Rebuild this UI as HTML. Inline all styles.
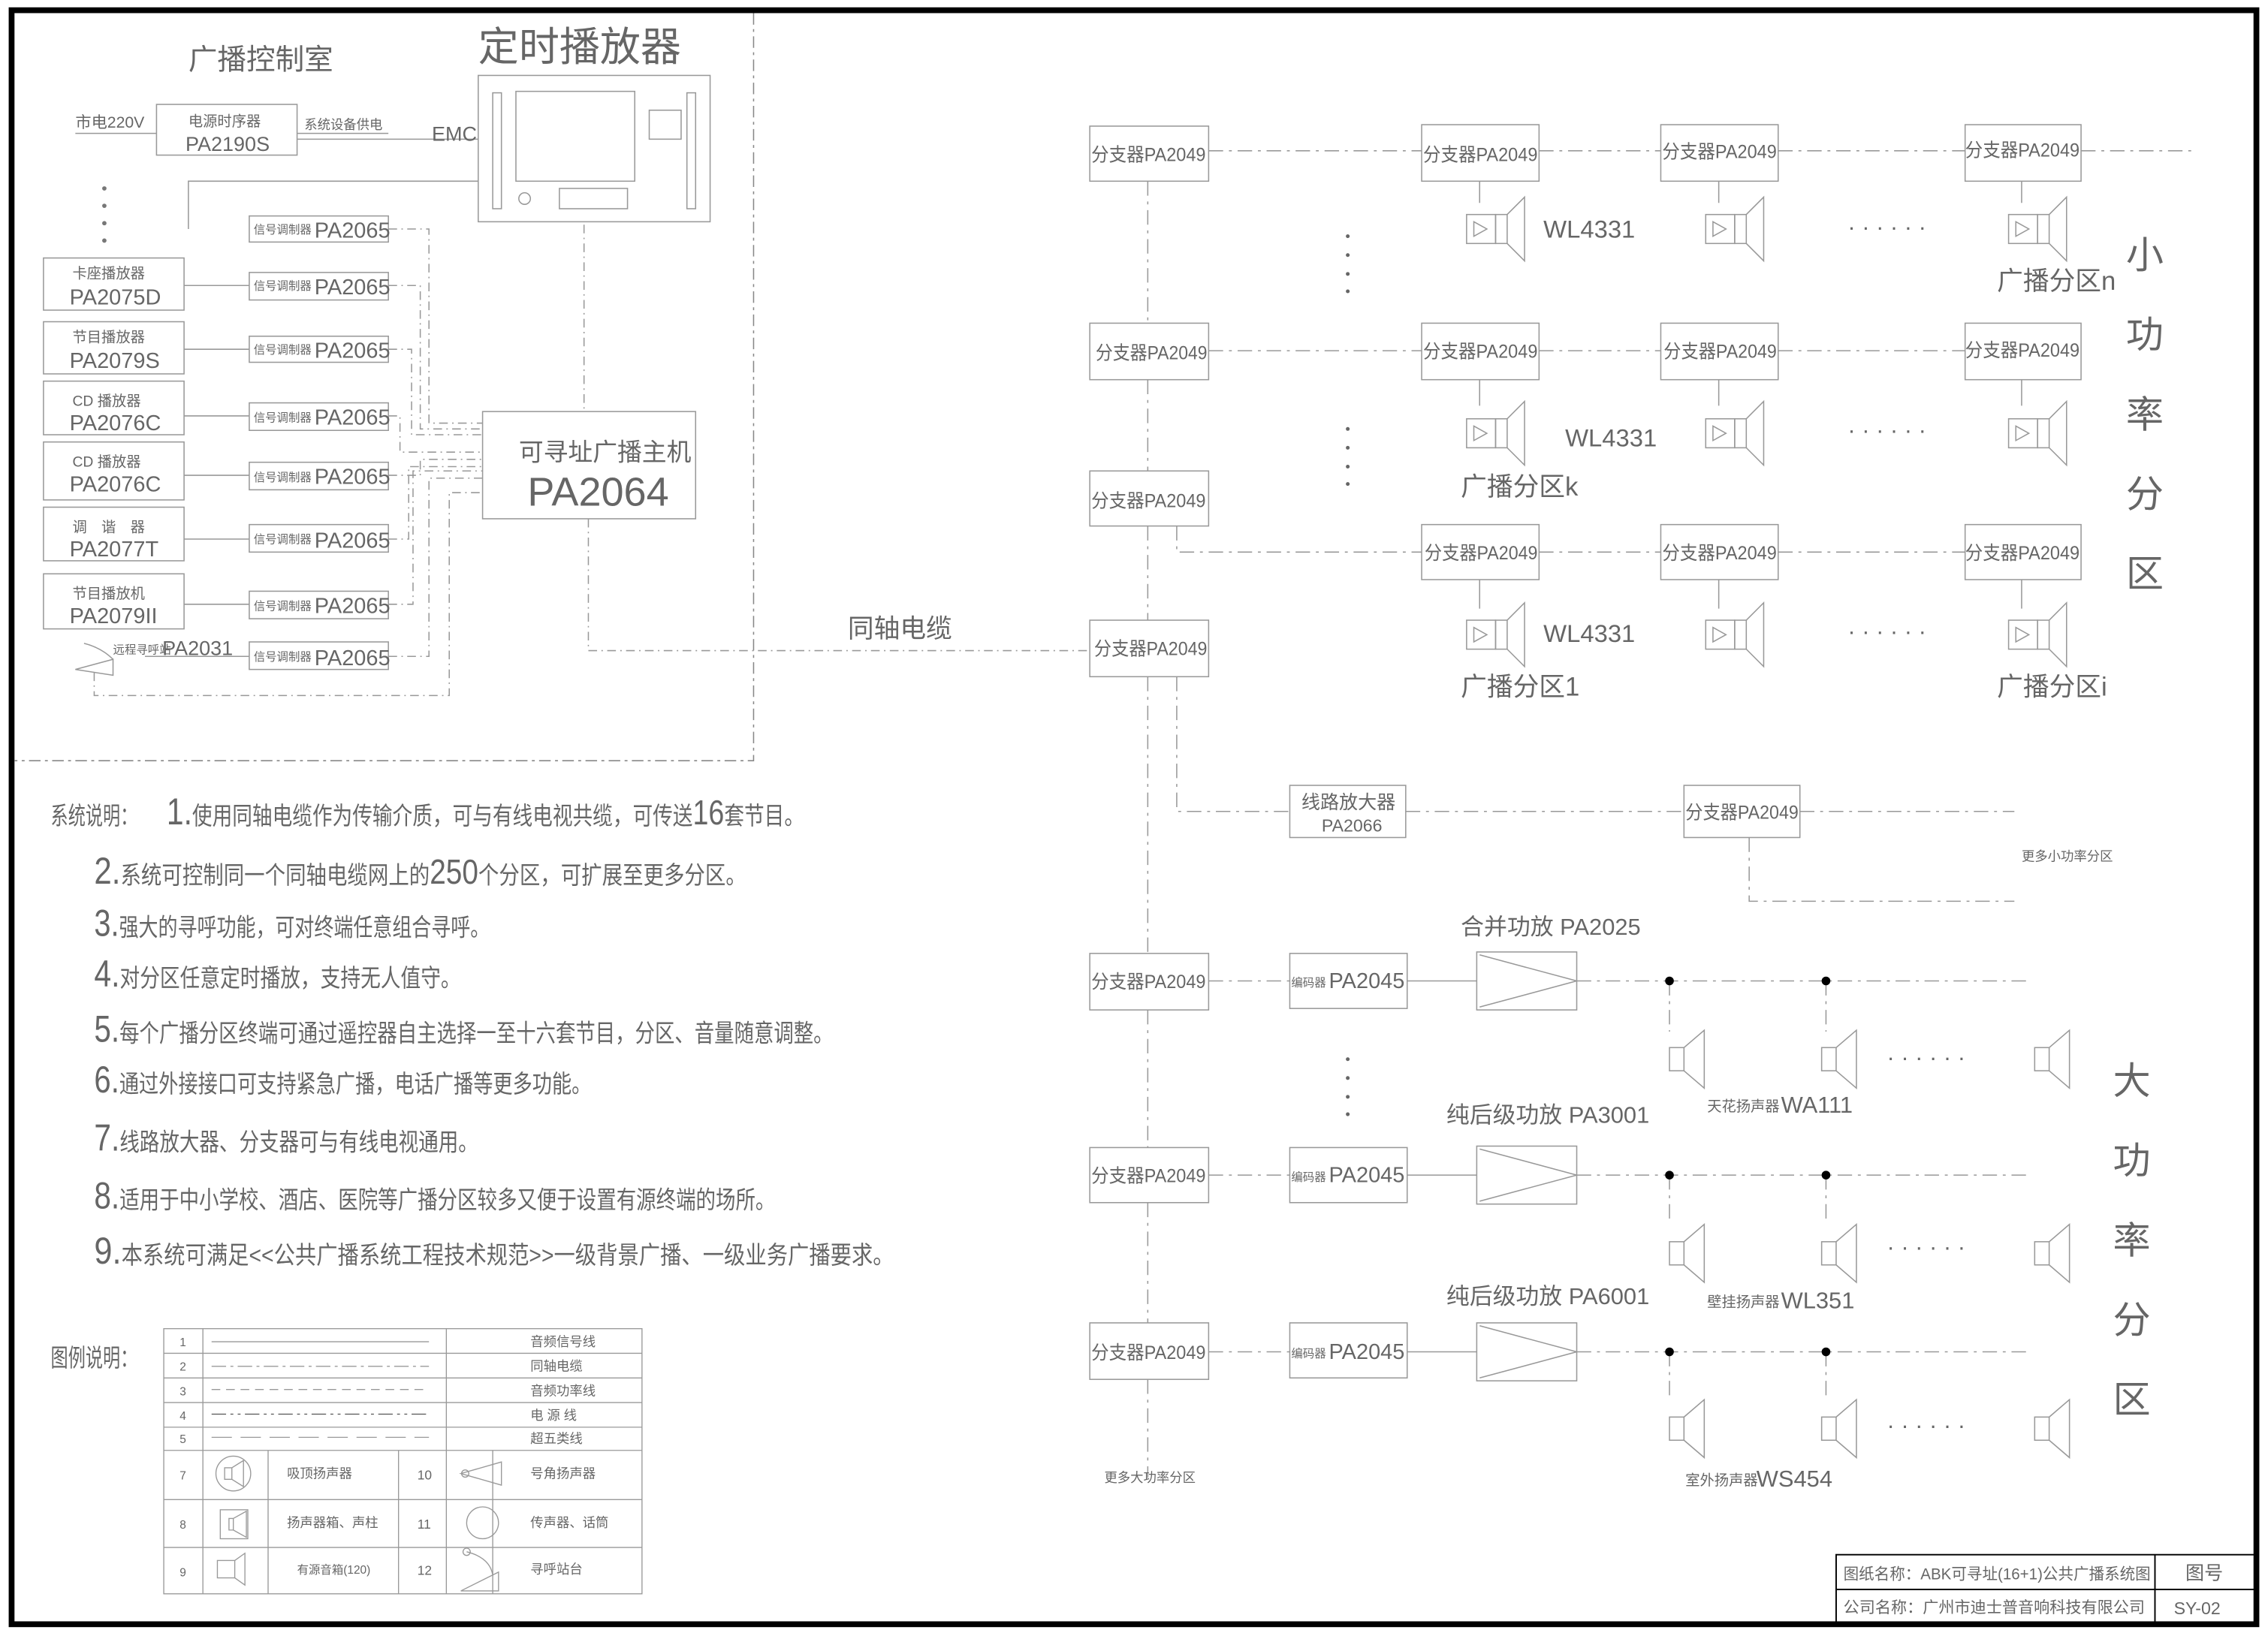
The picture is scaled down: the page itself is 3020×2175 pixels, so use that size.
<!DOCTYPE html>
<html><head><meta charset="utf-8"><style>
html,body{margin:0;padding:0;background:#fff;}
svg{display:block}
text{font-family:"Liberation Sans","Noto Sans CJK SC",sans-serif;fill:#666;}
</style></head><body>
<svg width="3020" height="2175" viewBox="0 0 1565 1127" xmlns="http://www.w3.org/2000/svg">
<defs>
<g id="spk"><rect x="-22" y="-10" width="20" height="20" fill="none" stroke="#999" stroke-width="0.8"/><rect x="-2" y="-10" width="8" height="20" fill="none" stroke="#999" stroke-width="0.8"/><path d="M6,-10 L18,-22 L18,22 L6,10" fill="none" stroke="#999" stroke-width="0.8"/><path d="M-17,-5 L-8,0 L-17,5 Z" fill="none" stroke="#999" stroke-width="0.8"/></g>
<g id="horn"><rect x="-8" y="-8" width="10" height="16" fill="none" stroke="#999" stroke-width="0.8"/><path d="M2,-8 L16,-20 L16,20 L2,8" fill="none" stroke="#999" stroke-width="0.8"/></g>
</defs>
<rect x="0" y="0" width="1565" height="1127" fill="#fff"/>
<rect x="8" y="7" width="1549" height="1114" fill="none" stroke="#000" stroke-width="4"/>
<g fill="none" stroke="#888" stroke-width="0.8">
<path d="M520,9 V525 H10" stroke-dasharray="8,3,2,3"/>
</g>
<!-- control room -->
<text x="130" y="48" font-size="20">广播控制室</text>
<text x="330" y="42" font-size="28" fill="#333">定时播放器</text>
<g fill="none" stroke="#999" stroke-width="0.8">
<rect x="330" y="52" width="160" height="101"/>
<rect x="356" y="63" width="82" height="62"/>
<rect x="340" y="64" width="6" height="80"/><rect x="474" y="64" width="6" height="80"/>
<rect x="448" y="76" width="22" height="20"/><rect x="386" y="130" width="47" height="14"/>
<circle cx="362" cy="137" r="4"/>
<rect x="108" y="72" width="97" height="35"/>
<path d="M52,92 H108 M205,92 H268 M205,96 H330" />
<path d="M130,158 V125 H330"/>
</g>
<text x="52" y="88" font-size="11">市电220V</text>
<text x="130" y="87" font-size="10">电源时序器</text>
<text x="128" y="104" font-size="14">PA2190S</text>
<text x="210" y="89" font-size="9">系统设备供电</text>
<text x="298" y="97" font-size="14">EMC</text>
<g fill="#777"><circle cx="72" cy="130" r="1.5"/><circle cx="72" cy="142" r="1.5"/><circle cx="72" cy="154" r="1.5"/><circle cx="72" cy="166" r="1.5"/></g>
<g fill="none" stroke="#999" stroke-width="0.8">
<rect x="30" y="178" width="97" height="36"/><rect x="30" y="222" width="97" height="36"/>
<rect x="30" y="263" width="97" height="37"/><rect x="30" y="305" width="97" height="40"/>
<rect x="30" y="350" width="97" height="37"/><rect x="30" y="396" width="97" height="38"/>
<rect x="172" y="149" width="96" height="18"/><rect x="172" y="188" width="96" height="19"/>
<rect x="172" y="232" width="96" height="18"/><rect x="172" y="278" width="96" height="19"/>
<rect x="172" y="319" width="96" height="19"/><rect x="172" y="362" width="96" height="19"/>
<rect x="172" y="408" width="96" height="19"/><rect x="172" y="443" width="96" height="19"/>
<path d="M127,197 H172 M127,241 H172 M127,287 H172 M127,328 H172 M127,372 H172 M127,417 H172 M100,453 H172"/>
<rect x="333" y="284" width="147" height="74"/>
<g stroke-dasharray="6,3,1,3"><path d="M268,158 H296 V292 H333 M268,197 H290 V296 H333 M268,241 H284 V300 H333 M268,287 H276 V312 H333 M268,328 H290 V317 H333 M268,372 H282 V322 H333 M268,417 H285 V325 H333 M268,453 H296 V330 H333 M65,464 V480 H310 V340 H333"/>
<path d="M403,155 V283 M406,358 V449 H752"/></g>
<path d="M52,462 L78,455 L78,466 Z M58,444 Q70,447 78,455"/>
</g>
<g font-size="10"><text x="50" y="192">卡座播放器</text><text x="50" y="236">节目播放器</text><text x="50" y="280">CD 播放器</text><text x="50" y="322">CD 播放器</text><text x="50" y="367">调　谐　器</text><text x="50" y="413">节目播放机</text></g>
<g font-size="15"><text x="48" y="210">PA2075D</text><text x="48" y="254">PA2079S</text><text x="48" y="297">PA2076C</text><text x="48" y="339">PA2076C</text><text x="48" y="384">PA2077T</text><text x="48" y="430">PA2079II</text></g>
<g font-size="8"><text x="175" y="161">信号调制器</text><text x="175" y="200">信号调制器</text><text x="175" y="244">信号调制器</text><text x="175" y="291">信号调制器</text><text x="175" y="332">信号调制器</text><text x="175" y="375">信号调制器</text><text x="175" y="421">信号调制器</text><text x="175" y="456">信号调制器</text></g>
<g font-size="15"><text x="217" y="164">PA2065</text><text x="217" y="203">PA2065</text><text x="217" y="247">PA2065</text><text x="217" y="293">PA2065</text><text x="217" y="334">PA2065</text><text x="217" y="378">PA2065</text><text x="217" y="423">PA2065</text><text x="217" y="459">PA2065</text></g>
<text x="78" y="451" font-size="8">远程寻呼站</text><text x="112" y="452" font-size="14">PA2031</text>
<text x="358" y="318" font-size="17">可寻址广播主机</text>
<text x="364" y="349" font-size="28">PA2064</text>
<!-- right -->
<g fill="none" stroke="#999" stroke-width="0.8">
<g stroke-dasharray="10,4,2,4">
<path d="M834,104 H981 M1062,104 H1146 M1227,104 H1356 M1436,104 H1515"/>
<path d="M834,242 H981 M1062,242 H1146 M1227,242 H1356"/>
<path d="M812,363 V381 H981 M1062,381 H1146 M1227,381 H1356"/>
<path d="M792,125 V223 M792,262 V325 M792,363 V428 M792,467 V658 M792,697 V792 M792,830 V913 M792,952 V1020"/>
<path d="M812,467 V560 H890 M970,560 H1162 M1242,560 H1390 M1207,578 V622 H1390"/>
<path d="M834,677 H890 M834,811 H890 M834,933 H890"/>
<path d="M1088,677 H1400 M1088,811 H1400 M1088,933 H1400"/>
<path d="M1152,677 V712 M1260,677 V712 M1152,811 V845 M1260,811 V845 M1152,933 V967 M1260,933 V967"/>
</g>
<path d="M1021,125 V140 M1186,125 V140 M1395,125 V140 M1021,262 V280 M1186,262 V280 M1395,262 V280 M1021,400 V420 M1186,400 V420 M1395,400 V420"/>
<path d="M971,677 H1019 M971,811 H1019 M971,933 H1019"/>
<rect x="752" y="87" width="82" height="38"/><rect x="752" y="223" width="82" height="39"/><rect x="752" y="325" width="82" height="38"/><rect x="752" y="428" width="82" height="39"/>
<rect x="752" y="658" width="82" height="39"/><rect x="752" y="792" width="82" height="38"/><rect x="752" y="913" width="82" height="39"/>
<rect x="981" y="86" width="81" height="39"/><rect x="1146" y="86" width="81" height="39"/><rect x="1356" y="86" width="80" height="39"/>
<rect x="981" y="223" width="81" height="39"/><rect x="1146" y="223" width="81" height="39"/><rect x="1356" y="223" width="80" height="39"/>
<rect x="981" y="362" width="81" height="38"/><rect x="1146" y="362" width="81" height="38"/><rect x="1356" y="362" width="80" height="38"/>
<rect x="890" y="542" width="80" height="36"/><rect x="1162" y="542" width="80" height="36"/>
<rect x="890" y="658" width="81" height="38"/><rect x="890" y="792" width="81" height="38"/><rect x="890" y="913" width="81" height="38"/>
<rect x="1019" y="657" width="69" height="40"/><rect x="1019" y="791" width="69" height="40"/><rect x="1019" y="913" width="69" height="40"/>
<path d="M1021,659 L1088,677 L1021,695 M1021,793 L1088,811 L1021,829 M1021,915 L1088,933 L1021,951"/>
</g>
<use href="#spk" x="1034" y="158"/><use href="#spk" x="1199" y="158"/><use href="#spk" x="1408" y="158"/>
<use href="#spk" x="1034" y="299"/><use href="#spk" x="1199" y="299"/><use href="#spk" x="1408" y="299"/>
<use href="#spk" x="1034" y="438"/><use href="#spk" x="1199" y="438"/><use href="#spk" x="1408" y="438"/>
<use href="#horn" x="1160" y="731"/><use href="#horn" x="1265" y="731"/><use href="#horn" x="1412" y="731"/>
<use href="#horn" x="1160" y="865"/><use href="#horn" x="1265" y="865"/><use href="#horn" x="1412" y="865"/>
<use href="#horn" x="1160" y="986"/><use href="#horn" x="1265" y="986"/><use href="#horn" x="1412" y="986"/>
<g fill="#000"><circle cx="1152" cy="677" r="3"/><circle cx="1260" cy="677" r="3"/><circle cx="1152" cy="811" r="3"/><circle cx="1260" cy="811" r="3"/><circle cx="1152" cy="933" r="3"/><circle cx="1260" cy="933" r="3"/></g>
<g font-size="13">
<text x="753" y="111" textLength="79" lengthAdjust="spacingAndGlyphs">分支器PA2049</text><text x="756" y="248" textLength="77" lengthAdjust="spacingAndGlyphs">分支器PA2049</text><text x="753" y="350" textLength="79" lengthAdjust="spacingAndGlyphs">分支器PA2049</text><text x="755" y="452" textLength="78" lengthAdjust="spacingAndGlyphs">分支器PA2049</text>
<text x="753" y="682" textLength="79" lengthAdjust="spacingAndGlyphs">分支器PA2049</text><text x="753" y="816" textLength="79" lengthAdjust="spacingAndGlyphs">分支器PA2049</text><text x="753" y="938" textLength="79" lengthAdjust="spacingAndGlyphs">分支器PA2049</text>
<text x="982" y="111" textLength="79" lengthAdjust="spacingAndGlyphs">分支器PA2049</text><text x="1147" y="109" textLength="79" lengthAdjust="spacingAndGlyphs">分支器PA2049</text><text x="1356" y="108" textLength="79" lengthAdjust="spacingAndGlyphs">分支器PA2049</text>
<text x="982" y="247" textLength="79" lengthAdjust="spacingAndGlyphs">分支器PA2049</text><text x="1148" y="247" textLength="78" lengthAdjust="spacingAndGlyphs">分支器PA2049</text><text x="1356" y="246" textLength="79" lengthAdjust="spacingAndGlyphs">分支器PA2049</text>
<text x="983" y="386" textLength="78" lengthAdjust="spacingAndGlyphs">分支器PA2049</text><text x="1147" y="386" textLength="79" lengthAdjust="spacingAndGlyphs">分支器PA2049</text><text x="1356" y="386" textLength="79" lengthAdjust="spacingAndGlyphs">分支器PA2049</text>
<text x="1163" y="565" textLength="78" lengthAdjust="spacingAndGlyphs">分支器PA2049</text>
</g>
<text x="898" y="558" font-size="13">线路放大器</text><text x="912" y="574" font-size="12">PA2066</text>
<g font-size="8"><text x="891" y="681">编码器</text><text x="891" y="815">编码器</text><text x="891" y="937">编码器</text></g>
<g font-size="15"><text x="917" y="682">PA2045</text><text x="917" y="816">PA2045</text><text x="917" y="938">PA2045</text></g>
<g font-size="17"><text x="1065" y="164">WL4331</text><text x="1080" y="308">WL4331</text><text x="1065" y="443">WL4331</text></g>
<g font-size="18"><text x="1378" y="200">广播分区n</text><text x="1008" y="342">广播分区k</text><text x="1008" y="480">广播分区1</text><text x="1378" y="480">广播分区i</text></g>
<g font-size="16" fill="#555"><text x="1275" y="162">· · · · · ·</text><text x="1275" y="302">· · · · · ·</text><text x="1275" y="441">· · · · · ·</text>
<text x="1302" y="735">· · · · · ·</text><text x="1302" y="866">· · · · · ·</text><text x="1302" y="989">· · · · · ·</text></g>
<g fill="#666"><circle cx="930" cy="163" r="1.3"/><circle cx="930" cy="176" r="1.3"/><circle cx="930" cy="189" r="1.3"/><circle cx="930" cy="201" r="1.3"/>
<circle cx="930" cy="296" r="1.3"/><circle cx="930" cy="309" r="1.3"/><circle cx="930" cy="322" r="1.3"/><circle cx="930" cy="334" r="1.3"/>
<circle cx="930" cy="731" r="1.3"/><circle cx="930" cy="744" r="1.3"/><circle cx="930" cy="757" r="1.3"/><circle cx="930" cy="769" r="1.3"/></g>
<g font-size="26"><text x="1467" y="185">小</text><text x="1467" y="240">功</text><text x="1467" y="295">率</text><text x="1467" y="350">分</text><text x="1467" y="405">区</text>
<text x="1458" y="755">大</text><text x="1458" y="810">功</text><text x="1458" y="865">率</text><text x="1458" y="920">分</text><text x="1458" y="975">区</text></g>
<text x="585" y="440" font-size="18">同轴电缆</text>
<text x="1395" y="594" font-size="9">更多小功率分区</text>
<text x="762" y="1023" font-size="9">更多大功率分区</text>
<g font-size="16"><text x="1008" y="645">合并功放 PA2025</text><text x="998" y="775">纯后级功放 PA3001</text><text x="998" y="900">纯后级功放 PA6001</text></g>
<text x="1178" y="767" font-size="10">天花扬声器</text><text x="1229" y="768" font-size="16">WA111</text>
<text x="1178" y="902" font-size="10">壁挂扬声器</text><text x="1229" y="903" font-size="16">WL351</text>
<text x="1163" y="1025" font-size="10">室外扬声器</text><text x="1212" y="1026" font-size="16">WS454</text>
<!-- notes -->
<g font-size="17" fill="#666">
<text x="35" y="569" textLength="60" lengthAdjust="spacingAndGlyphs">系统说明：</text>
<text x="115" y="569" textLength="440" lengthAdjust="spacingAndGlyphs"><tspan font-size="26">1.</tspan>使用同轴电缆作为传输介质，可与有线电视共缆，可传送<tspan font-size="24">16</tspan>套节目。</text>
<text x="65" y="610" textLength="450" lengthAdjust="spacingAndGlyphs"><tspan font-size="26">2.</tspan>系统可控制同一个同轴电缆网上的<tspan font-size="24">250</tspan>个分区，可扩展至更多分区。</text>
<text x="65" y="646" textLength="273" lengthAdjust="spacingAndGlyphs"><tspan font-size="26">3.</tspan>强大的寻呼功能，可对终端任意组合寻呼。</text>
<text x="65" y="681" textLength="253" lengthAdjust="spacingAndGlyphs"><tspan font-size="26">4.</tspan>对分区任意定时播放，支持无人值守。</text>
<text x="65" y="719" textLength="510" lengthAdjust="spacingAndGlyphs"><tspan font-size="26">5.</tspan>每个广播分区终端可通过遥控器自主选择一至十六套节目，分区、音量随意调整。</text>
<text x="65" y="754" textLength="343" lengthAdjust="spacingAndGlyphs"><tspan font-size="26">6.</tspan>通过外接接口可支持紧急广播，电话广播等更多功能。</text>
<text x="65" y="794" textLength="265" lengthAdjust="spacingAndGlyphs"><tspan font-size="26">7.</tspan>线路放大器、分支器可与有线电视通用。</text>
<text x="65" y="834" textLength="470" lengthAdjust="spacingAndGlyphs"><tspan font-size="26">8.</tspan>适用于中小学校、酒店、医院等广播分区较多又便于设置有源终端的场所。</text>
<text x="65" y="872" textLength="552" lengthAdjust="spacingAndGlyphs"><tspan font-size="26">9.</tspan>本系统可满足&lt;&lt;公共广播系统工程技术规范&gt;&gt;一级背景广播、一级业务广播要求。</text>
<text x="35" y="943" textLength="60" lengthAdjust="spacingAndGlyphs">图例说明：</text>
</g>
<!-- legend -->
<g fill="none" stroke="#999" stroke-width="0.7">
<rect x="113" y="917" width="330" height="183"/>
<path d="M113,934 H443 M113,951 H443 M113,968 H443 M113,985 H443 M113,1001 H443 M113,1035 H443 M113,1068 H443"/>
<path d="M140,917 V1100 M308,917 V1100 M185,1001 V1100 M275,1001 V1100 M340,1001 V1100"/>
<path d="M146,926 H296"/>
<path d="M146,943 H296" stroke-dasharray="10,3,2,3"/>
<path d="M146,959 H296" stroke-dasharray="6,4"/>
<path d="M146,976 H296" stroke-dasharray="10,3,2,3,2,3" stroke="#555"/>
<path d="M146,992 H296" stroke-dasharray="14,6"/>
<circle cx="161" cy="1017" r="12"/><path d="M155,1013 h5 v8 h-5z M160,1013 L168,1008 L168,1026 L160,1021"/>
<rect x="152" y="1042" width="19" height="20"/><path d="M158,1048 h3 v8 h-3z M161,1048 L170,1043 L170,1061 L161,1056"/>
<rect x="150" y="1077" width="12" height="12"/><path d="M162,1077 L169,1072 L169,1094 L162,1089"/>
<path d="M318,1017 L346,1009 L346,1025 Z"/><circle cx="321" cy="1017" r="2.5"/>
<circle cx="333" cy="1051" r="11"/>
<path d="M318,1098 L344,1085 L344,1098 Z M322,1071 Q338,1075 340,1087"/><circle cx="322" cy="1071" r="2.5"/>
</g>
<g font-size="8" fill="#999"><text x="124" y="929">1</text><text x="124" y="946">2</text><text x="124" y="963">3</text><text x="124" y="980">4</text><text x="124" y="996">5</text><text x="124" y="1021">7</text><text x="124" y="1055">8</text><text x="124" y="1088">9</text></g>
<g font-size="9" fill="#555"><text x="366" y="929">音频信号线</text><text x="366" y="946">同轴电缆</text><text x="366" y="963">音频功率线</text><text x="366" y="980">电 源 线</text><text x="366" y="996">超五类线</text>
<text x="198" y="1020">吸顶扬声器</text><text x="198" y="1054">扬声器箱、声柱</text><text x="205" y="1086" font-size="8">有源音箱(120)</text>
<text x="288" y="1021">10</text><text x="288" y="1055">11</text><text x="288" y="1087">12</text>
<text x="366" y="1020">号角扬声器</text><text x="366" y="1054">传声器、话筒</text><text x="366" y="1086">寻呼站台</text></g>
<!-- title block -->
<g fill="none" stroke="#000" stroke-width="1">
<rect x="1267" y="1073" width="290" height="47"/><path d="M1267,1097 H1557 M1487,1073 V1120"/>
</g>
<text x="1272" y="1090" font-size="11" fill="#333" textLength="212" lengthAdjust="spacingAndGlyphs">图纸名称：ABK可寻址(16+1)公共广播系统图</text>
<text x="1272" y="1113" font-size="11" fill="#333" textLength="208" lengthAdjust="spacingAndGlyphs">公司名称：广州市迪士普音响科技有限公司</text>
<text x="1508" y="1090" font-size="13" fill="#333">图号</text>
<text x="1500" y="1114" font-size="12" fill="#333">SY-02</text>
</svg>
</body></html>
